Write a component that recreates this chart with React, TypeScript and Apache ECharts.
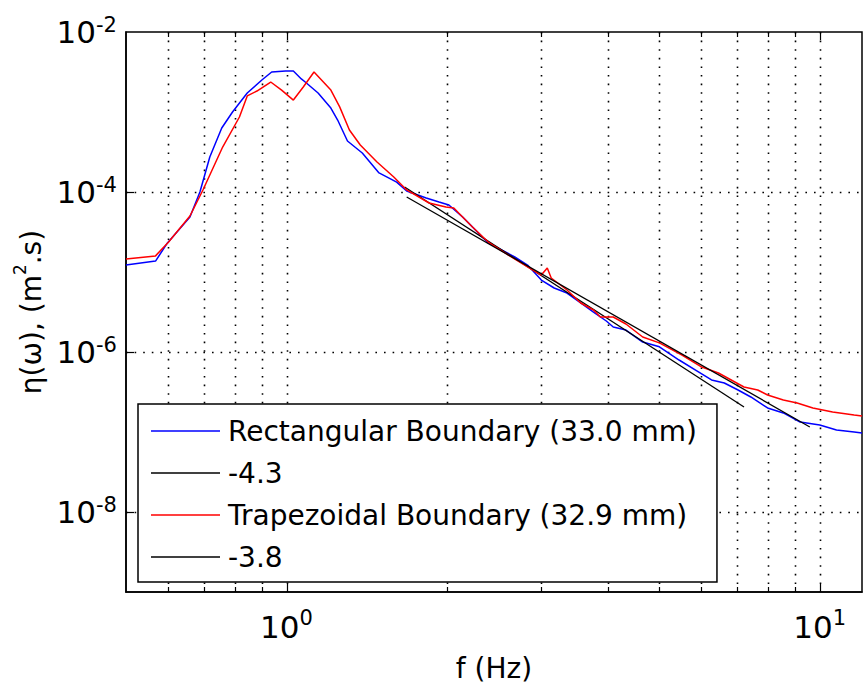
import React, { useEffect, useRef } from "react";
import * as echarts from "echarts";

// Rectangular boundary spectrum (blue)
const rectFreq = [
  0.5, 0.568, 0.598, 0.659, 0.688, 0.718, 0.756, 0.792, 0.844, 0.899,
  0.938, 0.996, 1.03, 1.066, 1.084, 1.146, 1.211, 1.247, 1.301, 1.387,
  1.491, 1.609, 1.68, 1.828, 1.932, 2.016, 2.139, 2.261, 2.389, 2.536,
  2.679, 2.831, 3.005, 3.176, 3.357, 3.562, 3.764, 3.978, 4.099, 4.33,
  4.655, 5.003, 5.447, 5.932, 6.266, 6.622, 7.027, 7.425, 7.982, 8.545,
  9.186, 10.0, 10.75, 11.6, 12.0,
];
const rectPsd = [
  1.22e-5, 1.37e-5, 2.31e-5, 4.87e-5, 1.0e-4, 2.74e-4, 6.31e-4, 1.0e-3, 1.73e-3, 2.51e-3,
  3.16e-3, 3.25e-3, 3.25e-3, 2.59e-3, 2.37e-3, 1.73e-3, 1.12e-3, 7.94e-4, 4.34e-4, 3.07e-4,
  1.73e-4, 1.33e-4, 1.03e-4, 8.41e-5, 7.5e-5, 6.88e-5, 4.87e-5, 3.35e-5, 2.31e-5, 1.88e-5,
  1.54e-5, 1.22e-5, 7.94e-6, 6.31e-6, 5.46e-6, 4.1e-6, 3.16e-6, 2.44e-6, 2.05e-6, 1.88e-6,
  1.33e-6, 1.16e-6, 7.94e-7, 5.62e-7, 4.47e-7, 4.1e-7, 3.35e-7, 2.74e-7, 2.0e-7, 1.73e-7,
  1.33e-7, 1.22e-7, 1.06e-7, 1.0e-7, 9.7e-8,
];

// Trapezoidal boundary spectrum (red)
const trapFreq = [
  0.5, 0.568, 0.601, 0.659, 0.697, 0.759, 0.816, 0.844, 0.88, 0.934,
  0.979, 1.03, 1.075, 1.126, 1.211, 1.258, 1.312, 1.375, 1.478, 1.589,
  1.68, 1.851, 1.99, 2.059, 2.103, 2.232, 2.389, 2.568, 2.831, 3.005,
  3.083, 3.136, 3.357, 3.562, 3.764, 3.878, 4.099, 4.33, 4.655, 5.003,
  5.516, 6.008, 6.456, 7.208, 7.65, 7.982, 8.545, 9.07, 9.707, 10.57,
  11.6, 12.0,
];
const trapPsd = [
  1.45e-5, 1.59e-5, 2.37e-5, 5.01e-5, 1.06e-4, 3.65e-4, 8.66e-4, 1.59e-3, 1.83e-3, 2.37e-3,
  1.88e-3, 1.41e-3, 2.05e-3, 3.16e-3, 1.88e-3, 1.16e-3, 5.96e-4, 3.87e-4, 2.37e-4, 1.54e-4,
  1.06e-4, 7.29e-5, 6.49e-5, 6.31e-5, 5.46e-5, 3.65e-5, 2.37e-5, 1.73e-5, 1.16e-5, 9.17e-6,
  1.12e-5, 8.41e-6, 5.96e-6, 4.1e-6, 3.35e-6, 2.74e-6, 2.74e-6, 2.24e-6, 1.54e-6, 1.3e-6,
  9.17e-7, 6.49e-7, 5.46e-7, 3.65e-7, 3.35e-7, 2.9e-7, 2.51e-7, 2.31e-7, 2.0e-7, 1.78e-7,
  1.63e-7, 1.59e-7,
];

// Power-law fits (black)
const fitRectFreq = [1.665, 7.21];
const fitRectPsd = [1.155e-4, 2.05e-7];
const fitTrapFreq = [1.68, 9.58];
const fitTrapPsd = [8.66e-5, 1.155e-7];

const seriesNames = [
  "Rectangular Boundary (33.0 mm)",
  "-4.3",
  "Trapezoidal Boundary (32.9 mm)",
  "-3.8",
];

const xGridValues = [0.6, 0.7, 0.8, 0.9, 1, 2, 3, 4, 5, 6, 7, 8, 9, 10];
const xMajorValues = [1, 10];
const yGridValues = [1e-8, 1e-6, 1e-4];
const xLabelExps = [0, 1];
const yLabelExps = [-8, -6, -4, -2];

const X_MIN = 0.5;
const X_MAX = 12;
const Y_MIN = 1e-9;
const Y_MAX = 1e-2;

const FONT = "'DejaVu Sans', sans-serif";

const pairs = (xs: number[], ys: number[]) => xs.map((x, i) => [x, ys[i]]);

const expOf = (v: number): number | null => {
  const l = Math.log10(v);
  const e = Math.round(l);
  return Math.abs(l - e) < 1e-6 ? e : null;
};

export default function App() {
  const ref = useRef<HTMLDivElement>(null);

  useEffect(() => {
    if (!ref.current) return;
    const chart = echarts.init(ref.current, undefined, { renderer: "svg" });

    const gridItem = (params: any, api: any) => {
      const cs = params.coordSys;
      const top = cs.y;
      const bottom = cs.y + cs.height;
      const left = cs.x;
      const right = cs.x + cs.width;
      const dot = { stroke: "#000", lineWidth: 1.6, lineDash: [1.6, 7] };
      const tick = { stroke: "#000", lineWidth: 1.2 };
      const children: any[] = [];
      xGridValues.forEach((f) => {
        const px = Math.round(api.coord([f, 1e-5])[0]) + 0.5;
        const len = xMajorValues.includes(f) ? 8 : 5;
        children.push({ type: "line", shape: { x1: px, y1: top, x2: px, y2: bottom }, style: dot });
        children.push({ type: "line", shape: { x1: px, y1: bottom, x2: px, y2: bottom - len }, style: tick });
        children.push({ type: "line", shape: { x1: px, y1: top, x2: px, y2: top + len }, style: tick });
      });
      yGridValues.forEach((v) => {
        const py = Math.round(api.coord([1, v])[1]) + 0.5;
        children.push({ type: "line", shape: { x1: left, y1: py, x2: right, y2: py }, style: dot });
        children.push({ type: "line", shape: { x1: left, y1: py, x2: left + 8, y2: py }, style: tick });
      });
      return { type: "group", children };
    };

    chart.setOption({
      animation: false,
      backgroundColor: "#fff",
      textStyle: { fontFamily: FONT },
      grid: {
        left: 126,
        top: 32,
        right: -8,
        bottom: 96,
        show: true,
        borderColor: "#000",
        borderWidth: 1.5,
        backgroundColor: "#fff",
      },
      legend: {
        data: seriesNames,
        orient: "vertical",
        left: 138,
        top: 404,
        padding: [12, 20, 10, 13],
        itemGap: 12,
        itemWidth: 69,
        itemHeight: 1.5,
        icon: "rect",
        backgroundColor: "#fff",
        borderColor: "#000",
        borderWidth: 1.5,
        borderRadius: 0,
        selectedMode: false,
        textStyle: {
          color: "#000",
          fontSize: 28,
          lineHeight: 30,
          fontFamily: FONT,
          padding: [0, 0, 0, 3],
        },
      },
      xAxis: {
        type: "log",
        logBase: 10,
        min: X_MIN,
        max: X_MAX,
        name: "f (Hz)",
        nameLocation: "middle",
        nameGap: 61,
        nameTextStyle: { color: "#000", fontSize: 28, lineHeight: 30, fontFamily: FONT },
        axisLine: { show: true, lineStyle: { color: "#000", width: 1.5 } },
        axisTick: { show: false },
        splitLine: { show: false },
        minorTick: { show: false },
        axisLabel: {
          margin: 15,
          color: "#000",
          formatter: (v: number) => {
            const e = expOf(v);
            if (e === null || !xLabelExps.includes(e)) return "";
            return `{b|10}{s|${e}}`;
          },
          rich: {
            b: { fontSize: 31, lineHeight: 40, fontFamily: FONT, color: "#000" },
            s: { fontSize: 21, lineHeight: 12, verticalAlign: "top", fontFamily: FONT, color: "#000" },
          },
        },
      },
      yAxis: {
        type: "log",
        logBase: 10,
        min: Y_MIN,
        max: Y_MAX,
        name: "{n|η(ω), (m}{s|2}{n|.s)}",
        nameLocation: "middle",
        nameGap: 69,
        nameRotate: 90,
        nameTextStyle: {
          color: "#000",
          rich: {
            n: { fontSize: 28, lineHeight: 40, fontFamily: FONT, color: "#000" },
            s: { fontSize: 17, lineHeight: 12, verticalAlign: "top", fontFamily: FONT, color: "#000" },
          },
        },
        axisLine: { show: true, lineStyle: { color: "#000", width: 1.5 } },
        axisTick: { show: false },
        splitLine: { show: false },
        axisLabel: {
          margin: 9,
          color: "#000",
          formatter: (v: number) => {
            const e = expOf(v);
            if (e === null || !yLabelExps.includes(e)) return "";
            return `{b|10}{s|${e}}`;
          },
          rich: {
            b: { fontSize: 31, lineHeight: 36, fontFamily: FONT, color: "#000" },
            s: { fontSize: 21, lineHeight: 18, verticalAlign: "top", fontFamily: FONT, color: "#000" },
          },
        },
      },
      series: [
        {
          type: "custom",
          name: "grid",
          silent: true,
          z: 1,
          renderItem: gridItem,
          data: [[1, 1e-5]],
        },
        {
          type: "line",
          name: seriesNames[0],
          data: pairs(rectFreq, rectPsd),
          symbol: "none",
          z: 3,
          color: "#0000ff",
          lineStyle: { color: "#0000ff", width: 1.5 },
        },
        {
          type: "line",
          name: seriesNames[1],
          data: pairs(fitRectFreq, fitRectPsd),
          symbol: "none",
          z: 3,
          color: "#000",
          lineStyle: { color: "#000", width: 1.3 },
        },
        {
          type: "line",
          name: seriesNames[2],
          data: pairs(trapFreq, trapPsd),
          symbol: "none",
          z: 3,
          color: "#ff0000",
          lineStyle: { color: "#ff0000", width: 1.5 },
        },
        {
          type: "line",
          name: seriesNames[3],
          data: pairs(fitTrapFreq, fitTrapPsd),
          symbol: "none",
          z: 3,
          color: "#000",
          lineStyle: { color: "#000", width: 1.3 },
        },
      ],
    });

    return () => chart.dispose();
  }, []);

  return (
    <div
      ref={ref}
      style={{ position: "fixed", left: 0, top: 0, width: 865, height: 688, background: "#fff" }}
    />
  );
}
